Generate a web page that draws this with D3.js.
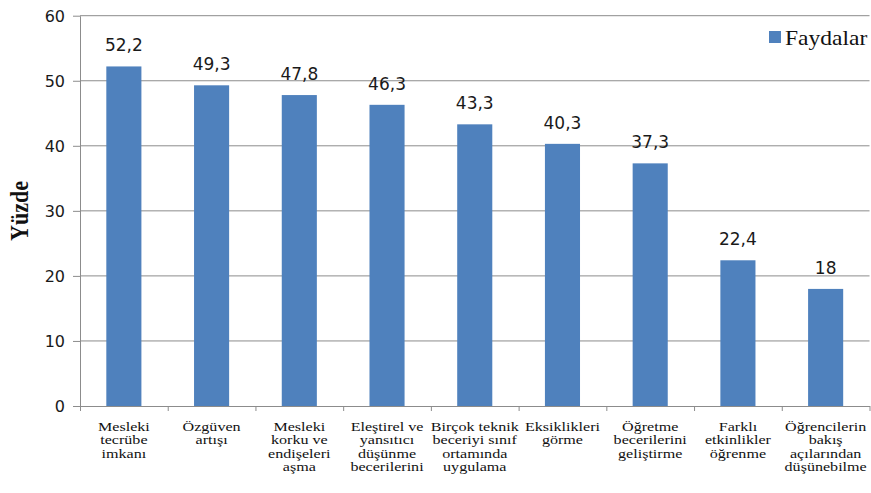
<!DOCTYPE html>
<html>
<head>
<meta charset="utf-8">
<script src="https://cdn.jsdelivr.net/npm/d3@7"></script>
<style>
  body { margin: 0; background: #fff; }
</style>
</head>
<body>
<div id="chart"></div>
<script>
// data
const categories = [
  "Mesleki\ntecrübe\nimkanı",
  "Özgüven\nartışı",
  "Mesleki\nkorku ve\nendişeleri\naşma",
  "Eleştirel ve\nyansıtıcı\ndüşünme\nbecerilerini",
  "Birçok teknik\nbeceriyi sınıf\nortamında\nuygulama",
  "Eksiklikleri\ngörme",
  "Öğretme\nbecerilerini\ngeliştirme",
  "Farklı\netkinlikler\nöğrenme",
  "Öğrencilerin\nbakış\naçılarından\ndüşünebilme"
]
const values = [52.2, 49.3, 47.8, 46.3, 43.3, 40.3, 37.3, 22.4, 18]
const yTicks = [0, 10, 20, 30, 40, 50, 60]
const seriesName = "Faydalar"
const yTitle = "Yüzde"

const width = 871
const height = 493
const plot = { left: 80, right: 869.5, top: 15.7, bottom: 406 }

const barColor = "#4f81bd"
const lineColor = "#8c8c8c"
const serif = "'Liberation Serif', 'DejaVu Serif', serif"

const svg = d3.select("#chart").append("svg")
    .attr("width", width)
    .attr("height", height)

const x = d3.scaleBand()
    .domain(categories)
    .range([plot.left, plot.right])
    .paddingInner(0.6)
    .paddingOuter(0.3)

// boundaries between categories, for the tick marks
const xEdge = d3.scaleLinear()
    .domain([0, categories.length])
    .range([plot.left, plot.right])

const y = d3.scaleLinear()
    .domain([0, 60])
    .range([plot.bottom, plot.top])

// gridlines
svg.append("g")
    .selectAll("line")
    .data(yTicks.filter(d => d > 0))
    .enter()
    .append("line")
    .attr("x1", plot.left)
    .attr("x2", plot.right)
    .attr("y1", d => y(d))
    .attr("y2", d => y(d))
    .attr("stroke", lineColor)
    .attr("stroke-width", 1)

// y axis
const yAxis = svg.append("g")
    .attr("transform", `translate(${plot.left},0)`)
    .call(d3.axisLeft(y).tickValues(yTicks).tickSize(7).tickPadding(8).tickSizeOuter(0))
yAxis.select(".domain").attr("stroke", lineColor)
yAxis.selectAll(".tick line").attr("stroke", lineColor)
yAxis.selectAll(".tick text")
    .attr("fill", "#1a1a1a")
    .style("font-family", "DejaVu Sans")
    .style("font-size", "16px")
    .attr("dy", "0.36em")

// x axis (ticks at category edges, no labels)
const xAxis = svg.append("g")
    .attr("transform", `translate(0,${plot.bottom})`)
    .call(d3.axisBottom(xEdge).ticks(categories.length).tickSize(5).tickFormat("").tickSizeOuter(0))
xAxis.select(".domain").attr("stroke", lineColor)
xAxis.selectAll(".tick line").attr("stroke", lineColor)

// bars
svg.selectAll("rect.bar")
    .data(values)
    .enter()
    .append("rect")
    .attr("class", "bar")
    .attr("x", (d, i) => x(categories[i]))
    .attr("y", d => y(d))
    .attr("width", x.bandwidth())
    .attr("height", d => y(0) - y(d))
    .attr("fill", barColor)

// value labels
svg.selectAll("text.val")
    .data(values)
    .enter()
    .append("text")
    .attr("class", "val")
    .attr("x", (d, i) => x(categories[i]) + x.bandwidth() / 2)
    .attr("y", d => y(d) - 15)
    .attr("text-anchor", "middle")
    .style("font-family", "DejaVu Sans")
    .style("font-size", "17px")
    .attr("fill", "#1a1a1a")
    .text(d => String(d).replace(".", ","))

// category labels
const catLabels = svg.selectAll("text.cat")
    .data(categories)
    .enter()
    .append("text")
    .attr("class", "cat")
    .attr("transform", d => `translate(${x(d) + x.bandwidth() / 2},431) scale(1.2,1)`)
    .attr("text-anchor", "middle")
    .style("font-family", serif)
    .style("font-size", "13.4px")
    .attr("fill", "#111")

catLabels.selectAll("tspan")
    .data(d => d.split("\n"))
    .enter()
    .append("tspan")
    .attr("x", 0)
    .attr("y", (d, i) => i * 13.4)
    .text(d => d)

// y title
svg.append("text")
    .attr("transform", "translate(28,211) rotate(-90) scale(1,1.1)")
    .attr("text-anchor", "middle")
    .style("font-family", serif)
    .style("font-size", "22px")
    .style("font-weight", "bold")
    .attr("fill", "#111")
    .text(yTitle)

// legend
const legend = svg.append("g")
    .attr("transform", "translate(769,31)")
legend.append("rect")
    .attr("width", 12)
    .attr("height", 12)
    .attr("fill", barColor)
legend.append("text")
    .attr("transform", "translate(16,14) scale(1.12,1)")
    .style("font-family", serif)
    .style("font-size", "21px")
    .attr("fill", "#111")
    .text(seriesName)
</script>
</body>
</html>
